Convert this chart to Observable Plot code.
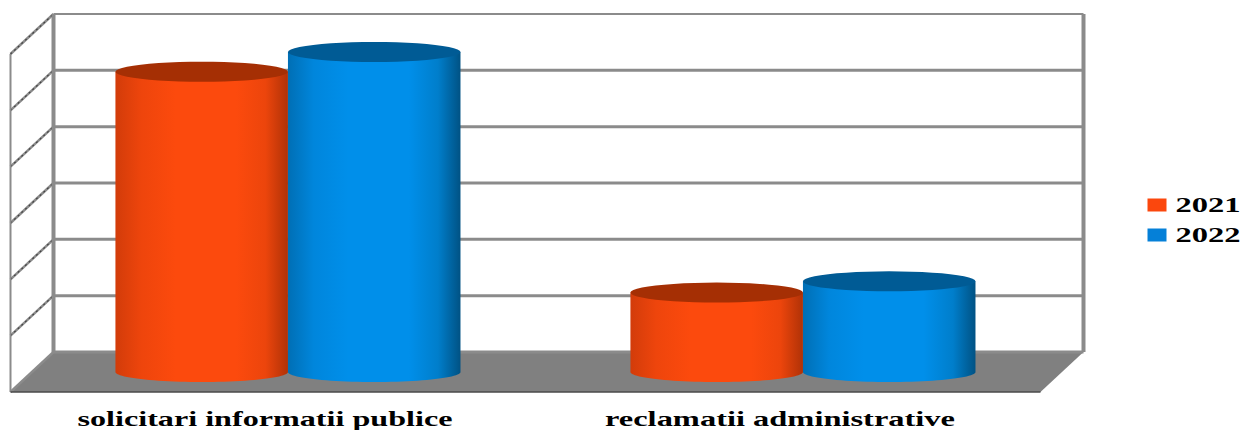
<!DOCTYPE html>
<html>
<head>
<meta charset="utf-8">
<script src="https://cdn.jsdelivr.net/npm/d3@7"></script>
<script src="https://cdn.jsdelivr.net/npm/@observablehq/plot@0.6"></script>
<style>html,body{margin:0;padding:0;background:#fff}svg{display:block}</style>
</head>
<body>
<div id="chart"></div>
<script>
// Data (gridline units)
const categories = ["solicitari informatii publice", "reclamatii administrative"];
const series = ["2021", "2022"];
const values2021 = [5.33, 1.41];
const values2022 = [5.68, 1.61];
const gridTicks = [0, 1, 2, 3, 4, 5, 6];
const seriesColors = ["#fb470d", "#0580d8"];
const topColors = ["#a52f04", "#005b95"];
const gradients = [
  ["#d23c0a", "#ee450c", "#fc4a0d", "#fc4a0d", "#ec450c", "#b03207"],
  ["#006fb5", "#0086dc", "#008fea", "#008fea", "#007ecb", "#005284"]
];
const gradStops = [0, 0.15, 0.35, 0.7, 0.87, 1];

// One unit of depth, expressed in data units (half the floor depth)
const depthX = 0.04175, depthY = 0.355;
const at = (x, v, d = 0) => ({x: x + d * depthX, y: v + d * depthY});
const xMin = -0.5, xMax = 1.5;
const halfW = 0.1675, ry = 0.1775, barShift = -0.003;

function ellipsePts(cx, v, from, to, n = 48) {
  return d3.range(n + 1).map(i => {
    const t = from + (to - from) * i / n;
    return {x: cx + halfW * Math.cos(t), y: v + ry * Math.sin(t)};
  });
}

const wallColor = "#8b8b8b";
const gridMark = (data, o) => Plot.link(data, {x1: d => d.a.x, y1: d => d.a.y, x2: d => d.b.x, y2: d => d.b.y, ...o});
const seg = (a, b) => ({a, b});

const defs = () => {
  const d = d3.create("svg:defs");
  gradients.forEach((cols, i) => {
    const g = d.append("linearGradient").attr("id", "cyl" + i)
      .attr("x1", 0).attr("x2", 1).attr("y1", 0).attr("y2", 0);
    cols.forEach((c, j) => g.append("stop").attr("offset", gradStops[j]).attr("stop-color", c));
  });
  return d.node();
};

const cylinders = [];
categories.forEach((c, ci) => {
  [values2021, values2022].forEach((vals, si) => {
    const cx = ci + barShift + (si === 0 ? -halfW : halfW), v = vals[ci];
    const body = [...ellipsePts(cx, 0, Math.PI, 2 * Math.PI), ...ellipsePts(cx, v, 2 * Math.PI, Math.PI, 1)];
    cylinders.push(Plot.line(body, {x: "x", y: "y", fill: `url(#cyl${si})`, stroke: "none", curve: "linear"}));
    cylinders.push(Plot.line(ellipsePts(cx, v, 0, 2 * Math.PI), {x: "x", y: "y", fill: topColors[si], stroke: "none", curve: "linear"}));
  });
});

const legendMarks = series.flatMap((s, i) => [
  Plot.dot([s], {
    fill: d => d, frameAnchor: "top-left", dx: 1156.5, dy: 204.5 + i * 30, r: 5,
    symbol: {draw(ctx) { ctx.rect(-9.5, -6.5, 19, 13); }}
  }),
  Plot.text([s], {
    text: d => d, frameAnchor: "top-left", dx: 1175, dy: 205 + i * 30, textAnchor: "start", lineAnchor: "middle",
    fontFamily: "Liberation Serif", fontWeight: "bold", fontSize: 21, fill: "#000", className: "legend-label"
  })
]);

const chart = Plot.plot({
  width: 1243, height: 430,
  marginTop: 0, marginRight: 0, marginBottom: 0, marginLeft: 0,
  style: {background: "#fff", maxWidth: "none"},
  x: {domain: [xMin, xMax], range: [31.5, 1061.5], axis: null},
  y: {domain: [0, 6], range: [371.5, 33.5], axis: null},
  color: {domain: series, range: seriesColors},
  marks: [
    defs,
    // floor
    Plot.line([at(xMin, 0, -1), at(xMax, 0, -1), at(xMax, 0, 1), at(xMin, 0, 1)],
      {x: "x", y: "y", fill: "#808080", stroke: "none", curve: "linear"}),
    // side wall
    gridMark(gridTicks.map(t => seg(at(xMin, t, -1), at(xMin, t, 1))), {stroke: wallColor, strokeWidth: 2.5}),
    gridMark(gridTicks.slice(1).map(t => seg(at(xMin, t, -1), at(xMin, t, 1))), {stroke: "#444", strokeWidth: 1.2, strokeDasharray: "2,3"}),
    gridMark([seg(at(xMin, 0, -1), at(xMin, 6, -1))], {stroke: wallColor, strokeWidth: 2}),
    // back wall gridlines
    gridMark(gridTicks.slice(0, -1).map(t => seg(at(xMin, t, 1), at(xMax, t, 1))), {stroke: wallColor, strokeWidth: 3}),
    gridMark([seg(at(xMin, 6, 1), at(xMax, 6, 1))], {stroke: wallColor, strokeWidth: 2}),
    // back wall verticals
    gridMark([xMin, xMax].map(x => seg(at(x, 0, 1), at(x, 6, 1))), {stroke: wallColor, strokeWidth: 4}),
    // floor front edge
    gridMark([seg(at(xMin, 0, -1), at(xMax, 0, -1))], {stroke: "#4a4a4a", strokeWidth: 1.5}),
    ...cylinders,
    // category labels, centred under the front edge of the floor
    Plot.text(categories, {
      x: (d, i) => i - depthX, frameAnchor: "bottom", dx: -3, dy: -5, lineAnchor: "bottom",
      text: d => d, fontFamily: "Liberation Serif", fontWeight: "bold", fontSize: 21, fill: "#000",
      className: "cat-label"
    }),
    ...legendMarks
  ]
});
document.getElementById("chart").append(chart);
const catWidths = [375, 350];
d3.select(chart).selectAll(".cat-label text").each(function(d, i) {
  d3.select(this).attr("textLength", catWidths[i]).attr("lengthAdjust", "spacingAndGlyphs");
});
d3.select(chart).selectAll(".legend-label text")
  .attr("textLength", 65).attr("lengthAdjust", "spacingAndGlyphs");
</script>
</body>
</html>
